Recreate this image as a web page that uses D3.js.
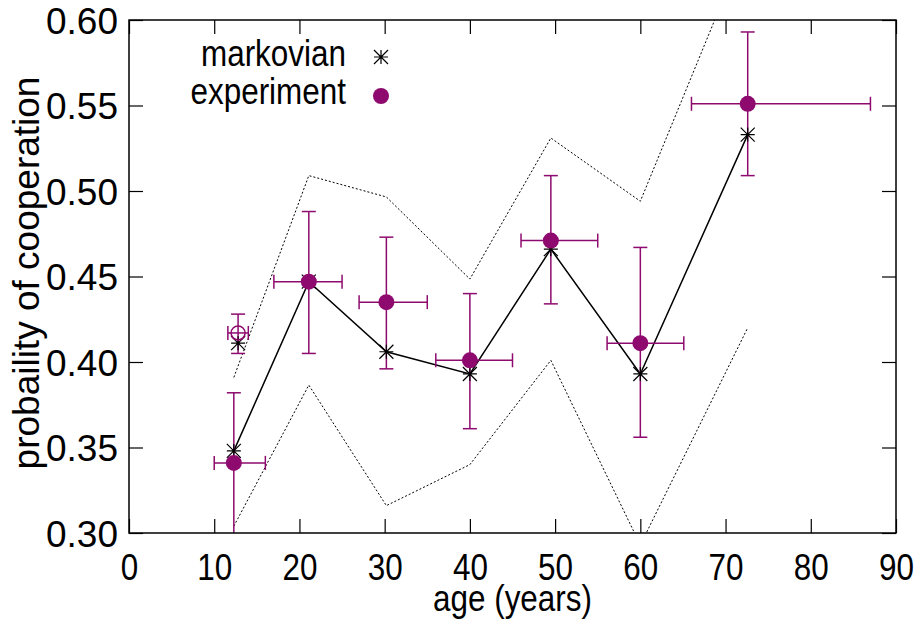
<!DOCTYPE html>
<html>
<head>
<meta charset="utf-8">
<script src="https://cdn.jsdelivr.net/npm/d3@7/dist/d3.min.js"></script>
<style>
  html, body { margin: 0; padding: 0; background: #fff; }
  svg text { font-family: "Liberation Sans", Arial, sans-serif; fill: #000; }
</style>
</head>
<body>
<svg id="chart" width="924" height="621"></svg>
<script>
// Age groups (mean age of each group, with the age span of the group)
const ages     = [12.3, 21.1, 30.2, 40.0, 49.5, 60.0, 72.6];
const ageLow   = [10.0, 17.0, 27.0, 36.0, 46.0, 56.1, 66.0];
const ageHigh  = [16.0, 25.0, 35.0, 45.0, 55.0, 65.1, 87.0];

// Measured cooperation with its error interval
const expMean  = [0.341, 0.447, 0.435, 0.401, 0.471, 0.411, 0.551];
const expLow   = [0.299, 0.405, 0.396, 0.361, 0.434, 0.356, 0.509];
const expHigh  = [0.382, 0.488, 0.473, 0.440, 0.509, 0.467, 0.593];

// Markovian model prediction and its band
const markov      = [0.348, 0.447, 0.406, 0.393, 0.466, 0.393, 0.533];
const markovUpper = [0.391, 0.509, 0.4965, 0.4485, 0.531, 0.494, 0.647];
const markovLower = [0.304, 0.3865, 0.316, 0.340, 0.401, 0.293, 0.420];

// Separate young subgroup (open marker)
const subAge = [12.8], subAgeLow = [11.6], subAgeHigh = [14.0];
const subMean = [0.417], subLow = [0.405], subHigh = [0.428];
const subMarkov = [0.411];

const xTicks = [0, 10, 20, 30, 40, 50, 60, 70, 80, 90];
const yTicks = [0.30, 0.35, 0.40, 0.45, 0.50, 0.55, 0.60];
const legendLabels = ["markovian", "experiment"];

const purple = "#8e0a6e";
const mLeft = 129, mRight = 896, mTop = 20, mBottom = 533;
const fontSize = 37;
const squeeze = 0.85;   // horizontally condensed lettering for horizontal labels

const svg = d3.select("#chart");
const x = d3.scaleLinear().domain([0, 90]).range([mLeft, mRight]);
const y = d3.scaleLinear().domain([0.30, 0.60]).range([mBottom, mTop]);

svg.append("defs").append("clipPath").attr("id", "plotclip")
  .append("rect").attr("x", mLeft).attr("y", mTop)
  .attr("width", mRight - mLeft).attr("height", mBottom - mTop);

// Axes with inward ticks on all four sides
const tickLen = 14;
const gx = svg.append("g").attr("transform", `translate(0,${mBottom})`)
  .call(d3.axisBottom(x).tickValues(xTicks).tickSizeInner(-tickLen).tickSizeOuter(0).tickPadding(21));
const gxTop = svg.append("g").attr("transform", `translate(0,${mTop})`)
  .call(d3.axisTop(x).tickValues(xTicks).tickSizeInner(-tickLen).tickSizeOuter(0).tickFormat(""));
const gy = svg.append("g").attr("transform", `translate(${mLeft},0)`)
  .call(d3.axisLeft(y).tickValues(yTicks).tickSizeInner(-tickLen).tickSizeOuter(0)
    .tickPadding(11).tickFormat(d3.format(".2f")));
const gyRight = svg.append("g").attr("transform", `translate(${mRight},0)`)
  .call(d3.axisRight(y).tickValues(yTicks).tickSizeInner(-tickLen).tickSizeOuter(0).tickFormat(""));

[gx, gxTop, gy, gyRight].forEach(g => {
  g.attr("font-family", null).attr("font-size", null);
  g.select(".domain").remove();
  g.selectAll(".tick line").attr("stroke", "#000").attr("stroke-width", 1.2);
  g.selectAll(".tick text").attr("font-size", fontSize).attr("fill", "#000");
});
gx.selectAll(".tick text").attr("dy", "0.71em").attr("transform", `scale(${squeeze},1)`);
gy.selectAll(".tick text").attr("dy", "0.36em");

const plot = svg.append("g").attr("clip-path", "url(#plotclip)");

// Model band (dotted)
const line = d3.line().x((d, i) => x(ages[i])).y(d => y(d));
[markovUpper, markovLower].forEach(arr => {
  plot.append("path").attr("d", line(arr))
    .attr("fill", "none").attr("stroke", "#000").attr("stroke-width", 1)
    .attr("stroke-dasharray", "2,2");
});

// Model mean (solid)
plot.append("path").attr("d", line(markov))
  .attr("fill", "none").attr("stroke", "#000").attr("stroke-width", 1.5);

// Error bars
function errorBars(ax, axLo, axHi, m, lo, hi) {
  const cap = 7;
  const g = plot.append("g").attr("stroke", purple).attr("stroke-width", 1.5).attr("fill", "none");
  ax.forEach((a, i) => {
    const cx = x(a), cy = y(m[i]);
    g.append("line").attr("x1", cx).attr("x2", cx).attr("y1", y(lo[i])).attr("y2", y(hi[i]));
    g.append("line").attr("x1", cx - cap).attr("x2", cx + cap).attr("y1", y(lo[i])).attr("y2", y(lo[i]));
    g.append("line").attr("x1", cx - cap).attr("x2", cx + cap).attr("y1", y(hi[i])).attr("y2", y(hi[i]));
    g.append("line").attr("x1", x(axLo[i])).attr("x2", x(axHi[i])).attr("y1", cy).attr("y2", cy);
    g.append("line").attr("x1", x(axLo[i])).attr("x2", x(axLo[i])).attr("y1", cy - cap).attr("y2", cy + cap);
    g.append("line").attr("x1", x(axHi[i])).attr("x2", x(axHi[i])).attr("y1", cy - cap).attr("y2", cy + cap);
  });
}
errorBars(ages, ageLow, ageHigh, expMean, expLow, expHigh);
errorBars(subAge, subAgeLow, subAgeHigh, subMean, subLow, subHigh);

// Asterisk marker
function star(g, cx, cy, s) {
  const p = `M${cx - s},${cy}H${cx + s}M${cx},${cy - s}V${cy + s}` +
            `M${cx - s},${cy - s}L${cx + s},${cy + s}M${cx - s},${cy + s}L${cx + s},${cy - s}`;
  g.append("path").attr("d", p).attr("stroke", "#000").attr("stroke-width", 1.2).attr("fill", "none");
}

const markers = plot.append("g");
ages.forEach((a, i) => star(markers, x(a), y(markov[i]), 7));
subAge.forEach((a, i) => star(markers, x(a), y(subMarkov[i]), 7));

markers.selectAll("circle.exp").data(expMean).join("circle").attr("class", "exp")
  .attr("cx", (d, i) => x(ages[i])).attr("cy", d => y(d)).attr("r", 8)
  .attr("fill", purple);
markers.selectAll("circle.sub").data(subMean).join("circle").attr("class", "sub")
  .attr("cx", (d, i) => x(subAge[i])).attr("cy", d => y(d)).attr("r", 7)
  .attr("fill", "none").attr("stroke", purple).attr("stroke-width", 1.5);

// Frame
svg.append("rect").attr("x", mLeft).attr("y", mTop)
  .attr("width", mRight - mLeft).attr("height", mBottom - mTop)
  .attr("fill", "none").attr("stroke", "#000").attr("stroke-width", 1.5);

// Text helper: anchor point (px, py), horizontal scale, optional rotation
function label(px, py, str, anchor, sx, rot) {
  return svg.append("text")
    .attr("transform", `translate(${px},${py}) scale(${sx},1)` + (rot ? ` rotate(${rot})` : ""))
    .attr("text-anchor", anchor).attr("font-size", fontSize).text(str);
}

// Axis titles
label((mLeft + mRight) / 2, 611, "age (years)", "middle", squeeze);
label(39, 273, "probaility of cooperation", "middle", 1, -90);

// Legend
label(346, 66, legendLabels[0], "end", squeeze);
label(346, 104, legendLabels[1], "end", squeeze);
star(svg, 381, 57, 7);
svg.append("circle").attr("cx", 381).attr("cy", 96).attr("r", 8).attr("fill", purple);
</script>
</body>
</html>
